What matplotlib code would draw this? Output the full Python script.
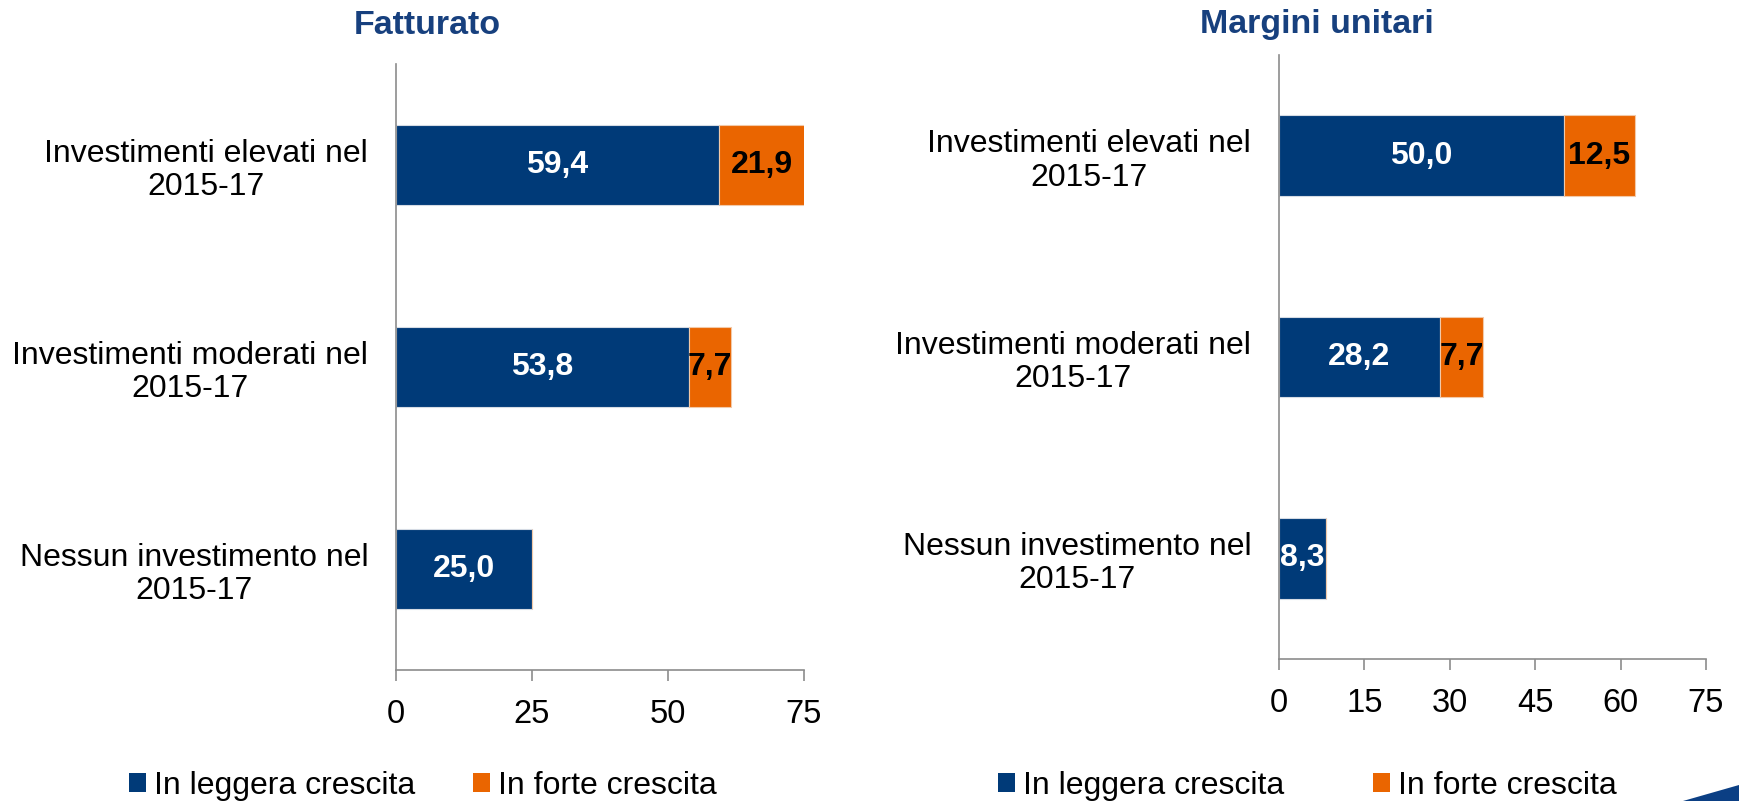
import matplotlib
matplotlib.use("Agg")
import matplotlib.pyplot as plt
from matplotlib.patches import Polygon, Patch

plt.rcParams['font.family'] = ['Liberation Sans', 'DejaVu Sans']

# --- data ---
categories = ['Investimenti elevati nel\n2015-17',
              'Investimenti moderati nel\n2015-17',
              'Nessun investimento nel\n2015-17']
fatturato_leggera = [59.4, 53.8, 25.0]
fatturato_forte = [21.9, 7.7, 0.0]
margini_leggera = [50.0, 28.2, 8.3]
margini_forte = [12.5, 7.7, 0.0]
series_names = ['In leggera crescita', 'In forte crescita']
fatturato_ticks = [0, 25, 50, 75]
margini_ticks = [0, 15, 30, 45, 60, 75]

BLUE = '#003A78'
ORANGE = '#EA6500'
TITLE = '#17407E'
SPINE = '#8C8C8C'

W, H = 1739, 801


def fmt(v):
    return f"{v:.1f}".replace('.', ',')


def draw_panel(ax, leggera, forte, ticks):
    y = list(range(len(categories)))
    xmax = ticks[-1]
    ax.barh(y, leggera, height=0.4, color=BLUE, edgecolor='#d5dbe4', lw=0.8)
    ax.barh(y, forte, left=leggera, height=0.4, color=ORANGE, edgecolor='#f2c9a8',
            lw=0.8)
    # labels sit in the middle of the visible part of each segment
    for yi, a, b in zip(y, leggera, forte):
        ax.text(min(a, xmax) / 2, yi, fmt(a), ha='center', va='center',
                color='white', fontsize=23, fontweight='bold')
        if b > 0:
            end = min(a + b, xmax)
            ax.text((a + end) / 2, yi, fmt(b), ha='center', va='center',
                    color='black', fontsize=23, fontweight='bold')
    ax.set_xlim(0, xmax)
    ax.set_ylim(len(categories) - 0.5, -0.5)
    ax.set_xticks(ticks)
    ax.set_xticklabels([str(t) for t in ticks])
    ax.set_yticks(y)
    ax.set_yticklabels(categories)
    for lab in ax.get_yticklabels():
        lab.set_multialignment('center')
        lab.set_linespacing(1.15)
    ax.tick_params(axis='y', length=0, pad=20, labelsize=23)
    ax.tick_params(axis='x', direction='out', length=8, width=1.2, color=SPINE,
                   pad=13, labelsize=23.5)
    for s in ('top', 'right'):
        ax.spines[s].set_visible(False)
    for s in ('left', 'bottom'):
        ax.spines[s].set_color(SPINE)
        ax.spines[s].set_linewidth(1.2)


def legend_entry(label, color, x_px):
    fig.legend(handles=[Patch(facecolor=color, label=label)], loc='center left',
               bbox_to_anchor=(x_px / W, 1 - 786 / H), frameon=False,
               fontsize=23, handlelength=0.53, handleheight=0.53,
               handletextpad=0.25, borderpad=0, borderaxespad=0)


fig = plt.figure(figsize=(17.39, 8.01), dpi=100)
ax1 = fig.add_axes([396 / W, 1 - 670 / H, 408 / W, 606 / H])
ax2 = fig.add_axes([1279 / W, 1 - 659 / H, 427 / W, 604 / H])

draw_panel(ax1, fatturato_leggera, fatturato_forte, fatturato_ticks)
draw_panel(ax2, margini_leggera, margini_forte, margini_ticks)

fig.text(427 / W, 1 - 25 / H, 'Fatturato', ha='center', va='center',
         color=TITLE, fontsize=24.5, fontweight='bold')
fig.text(1317 / W, 1 - 25 / H, 'Margini unitari', ha='center', va='center',
         color=TITLE, fontsize=24.5, fontweight='bold')

legend_entry(series_names[0], BLUE, 129)
legend_entry(series_names[1], ORANGE, 473)
legend_entry(series_names[0], BLUE, 998)
legend_entry(series_names[1], ORANGE, 1373)

# corner decoration
fig.patches.append(Polygon([(1683 / W, 0), (1.0, 16 / H), (1.0, 0)],
                           closed=True, transform=fig.transFigure,
                           facecolor='#0B3F84', edgecolor='none'))

fig.savefig('out.png', dpi=100)
